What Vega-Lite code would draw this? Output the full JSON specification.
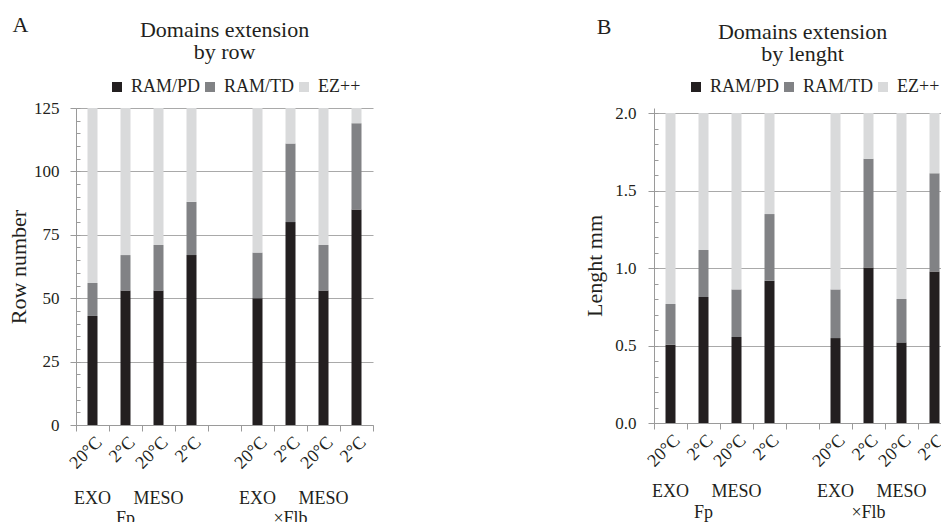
{
  "$schema": "https://vega.github.io/schema/vega-lite/v6.json",
  "background": "white",
  "padding": {"left": 7, "top": 14, "right": 0, "bottom": 0},
  "spacing": 209,
  "resolve": {"scale": {"color": "independent"}, "legend": {"color": "independent"}},
  "config": {
    "view": {"stroke": null},
    "font": "Liberation Serif",
    "axis": {"labelFont": "Liberation Serif", "titleFont": "Liberation Serif", "labelColor": "#231f20", "titleColor": "#231f20", "titleFontWeight": "normal", "domainColor": "#9a9a9a", "tickColor": "#9a9a9a", "gridColor": "#a9a9a9"},
    "legend": {"labelFont": "Liberation Serif", "labelColor": "#231f20", "labelFontSize": 18},
    "title": {"font": "Liberation Serif", "fontWeight": "normal", "color": "#231f20"}
  },
  "datasets": {
    "row": [
      {"cat": "Fp EXO 20°C", "seg": "RAM/PD", "o": 1, "value": 43},
      {"cat": "Fp EXO 20°C", "seg": "RAM/TD", "o": 2, "value": 13},
      {"cat": "Fp EXO 20°C", "seg": "EZ++", "o": 3, "value": 69},
      {"cat": "Fp EXO 2°C", "seg": "RAM/PD", "o": 1, "value": 53},
      {"cat": "Fp EXO 2°C", "seg": "RAM/TD", "o": 2, "value": 14},
      {"cat": "Fp EXO 2°C", "seg": "EZ++", "o": 3, "value": 58},
      {"cat": "Fp MESO 20°C", "seg": "RAM/PD", "o": 1, "value": 53},
      {"cat": "Fp MESO 20°C", "seg": "RAM/TD", "o": 2, "value": 18},
      {"cat": "Fp MESO 20°C", "seg": "EZ++", "o": 3, "value": 54},
      {"cat": "Fp MESO 2°C", "seg": "RAM/PD", "o": 1, "value": 67},
      {"cat": "Fp MESO 2°C", "seg": "RAM/TD", "o": 2, "value": 21},
      {"cat": "Fp MESO 2°C", "seg": "EZ++", "o": 3, "value": 37},
      {"cat": "×Flb EXO 20°C", "seg": "RAM/PD", "o": 1, "value": 50},
      {"cat": "×Flb EXO 20°C", "seg": "RAM/TD", "o": 2, "value": 18},
      {"cat": "×Flb EXO 20°C", "seg": "EZ++", "o": 3, "value": 57},
      {"cat": "×Flb EXO 2°C", "seg": "RAM/PD", "o": 1, "value": 80},
      {"cat": "×Flb EXO 2°C", "seg": "RAM/TD", "o": 2, "value": 31},
      {"cat": "×Flb EXO 2°C", "seg": "EZ++", "o": 3, "value": 14},
      {"cat": "×Flb MESO 20°C", "seg": "RAM/PD", "o": 1, "value": 53},
      {"cat": "×Flb MESO 20°C", "seg": "RAM/TD", "o": 2, "value": 18},
      {"cat": "×Flb MESO 20°C", "seg": "EZ++", "o": 3, "value": 54},
      {"cat": "×Flb MESO 2°C", "seg": "RAM/PD", "o": 1, "value": 85},
      {"cat": "×Flb MESO 2°C", "seg": "RAM/TD", "o": 2, "value": 34},
      {"cat": "×Flb MESO 2°C", "seg": "EZ++", "o": 3, "value": 6}
    ],
    "length": [
      {"cat": "Fp EXO 20°C", "seg": "RAM/PD", "o": 1, "value": 0.505},
      {"cat": "Fp EXO 20°C", "seg": "RAM/TD", "o": 2, "value": 0.263},
      {"cat": "Fp EXO 20°C", "seg": "EZ++", "o": 3, "value": 1.232},
      {"cat": "Fp EXO 2°C", "seg": "RAM/PD", "o": 1, "value": 0.813},
      {"cat": "Fp EXO 2°C", "seg": "RAM/TD", "o": 2, "value": 0.303},
      {"cat": "Fp EXO 2°C", "seg": "EZ++", "o": 3, "value": 0.884},
      {"cat": "Fp MESO 20°C", "seg": "RAM/PD", "o": 1, "value": 0.555},
      {"cat": "Fp MESO 20°C", "seg": "RAM/TD", "o": 2, "value": 0.307},
      {"cat": "Fp MESO 20°C", "seg": "EZ++", "o": 3, "value": 1.138},
      {"cat": "Fp MESO 2°C", "seg": "RAM/PD", "o": 1, "value": 0.918},
      {"cat": "Fp MESO 2°C", "seg": "RAM/TD", "o": 2, "value": 0.43},
      {"cat": "Fp MESO 2°C", "seg": "EZ++", "o": 3, "value": 0.652},
      {"cat": "×Flb EXO 20°C", "seg": "RAM/PD", "o": 1, "value": 0.548},
      {"cat": "×Flb EXO 20°C", "seg": "RAM/TD", "o": 2, "value": 0.314},
      {"cat": "×Flb EXO 20°C", "seg": "EZ++", "o": 3, "value": 1.138},
      {"cat": "×Flb EXO 2°C", "seg": "RAM/PD", "o": 1, "value": 1.004},
      {"cat": "×Flb EXO 2°C", "seg": "RAM/TD", "o": 2, "value": 0.701},
      {"cat": "×Flb EXO 2°C", "seg": "EZ++", "o": 3, "value": 0.295},
      {"cat": "×Flb MESO 20°C", "seg": "RAM/PD", "o": 1, "value": 0.52},
      {"cat": "×Flb MESO 20°C", "seg": "RAM/TD", "o": 2, "value": 0.28},
      {"cat": "×Flb MESO 20°C", "seg": "EZ++", "o": 3, "value": 1.2},
      {"cat": "×Flb MESO 2°C", "seg": "RAM/PD", "o": 1, "value": 0.978},
      {"cat": "×Flb MESO 2°C", "seg": "RAM/TD", "o": 2, "value": 0.633},
      {"cat": "×Flb MESO 2°C", "seg": "EZ++", "o": 3, "value": 0.389}
    ]
  },
  "hconcat": [
    {
      "title": {"text": "A", "anchor": "start", "offset": -18, "fontSize": 22, "dx": 5},
      "vconcat": [
        {
          "width": 297,
          "height": 317,
          "title": {"text": ["Domains extension", "by row"], "fontSize": 22, "lineHeight": 22, "offset": 35},
          "data": {"name": "row"},
          "layer": [
            {
              "mark": {"type": "bar", "size": 10},
              "encoding": {
                "x": {"field": "cat", "type": "nominal", "sort": null,
                  "scale": {"domain": ["Fp EXO 20°C", "Fp EXO 2°C", "Fp MESO 20°C", "Fp MESO 2°C", "gap", "×Flb EXO 20°C", "×Flb EXO 2°C", "×Flb MESO 20°C", "×Flb MESO 2°C"], "paddingInner": 0, "paddingOuter": 0},
                  "axis": {"title": null, "orient": "bottom", "tickBand": "extent", "tickSize": 6, "labelAngle": -45, "labelFont": "Liberation Serif", "labelFontSize": 18, "labelPadding": 2, "labelOverlap": false, "labelExpr": "datum.value == 'gap' ? '' : split(datum.value, ' ')[2]"}},
                "y": {"field": "value", "type": "quantitative", "stack": "zero",
                  "scale": {"domain": [0, 125]},
                  "axis": {"values": [0, 25, 50, 75, 100, 125], "title": "Row number", "titleFont": "Liberation Serif", "titleFontSize": 22, "titlePadding": 3, "labelFont": "Liberation Serif", "labelFontSize": 17, "tickSize": 6, "labelPadding": 11, "grid": true}},
                "color": {"field": "seg", "type": "nominal",
                  "scale": {"domain": ["RAM/PD", "RAM/TD", "EZ++"], "range": ["#231f20", "#818285", "#d9dadb"]},
                  "legend": {"title": null, "orient": "none", "legendX": 32, "legendY": -30, "direction": "horizontal", "symbolType": "square", "symbolSize": 100, "symbolStrokeWidth": 0, "labelFont": "Liberation Serif", "labelFontSize": 18, "labelOffset": 5, "columnPadding": 0}},
                "order": {"field": "o", "type": "quantitative"}
              }
            },
            {
              "mark": {"type": "bar", "size": 10, "opacity": 0},
              "encoding": {
                "x": {"field": "cat", "type": "nominal", "sort": null,
                  "axis": {"title": null, "orient": "bottom", "offset": 61, "domain": false, "ticks": false, "labelAngle": 0, "labelBaseline": "top", "labelPadding": 3, "labelFont": "Liberation Serif", "labelFontSize": 18, "labelOverlap": false, "labelExpr": "indexof(datum.value, 'EXO 20') >= 0 ? 'EXO' : (indexof(datum.value, 'MESO 20') >= 0 ? 'MESO' : '')"}},
                "y": {"field": "value", "type": "quantitative", "stack": null,
                  "scale": {"domain": [0, 125]},
                  "axis": {"orient": "left", "values": [0, 5, 10, 15, 20, 25, 30, 35, 40, 45, 50, 55, 60, 65, 70, 75, 80, 85, 90, 95, 100, 105, 110, 115, 120, 125], "labels": false, "grid": false, "domain": false, "tickSize": -4, "title": null}}
              }
            },
            {
              "mark": {"type": "bar", "size": 10, "opacity": 0},
              "encoding": {
                "x": {"field": "cat", "type": "nominal", "sort": null,
                  "axis": {"title": null, "orient": "bottom", "offset": 81, "domain": false, "ticks": false, "labelAngle": 0, "labelBaseline": "top", "labelPadding": 3, "labelFont": "Liberation Serif", "labelFontSize": 18, "labelOverlap": false, "labelExpr": "datum.value == 'Fp EXO 2°C' ? 'Fp' : (datum.value == '×Flb EXO 2°C' ? '×Flb' : '')"}}
              }
            }
          ],
          "resolve": {"axis": {"x": "independent", "y": "independent"}}
        }
      ]
    },
    {
      "title": {"text": "B", "anchor": "start", "offset": -18, "fontSize": 22, "dx": 13},
      "vconcat": [
        {
          "width": 297,
          "height": 315,
          "title": {"text": ["Domains extension", "by lenght"], "fontSize": 22, "lineHeight": 22, "offset": 38},
          "data": {"name": "length"},
          "layer": [
            {
              "mark": {"type": "bar", "size": 10},
              "encoding": {
                "x": {"field": "cat", "type": "nominal", "sort": null,
                  "scale": {"domain": ["Fp EXO 20°C", "Fp EXO 2°C", "Fp MESO 20°C", "Fp MESO 2°C", "gap", "×Flb EXO 20°C", "×Flb EXO 2°C", "×Flb MESO 20°C", "×Flb MESO 2°C"], "paddingInner": 0, "paddingOuter": 0},
                  "axis": {"title": null, "orient": "bottom", "tickBand": "extent", "tickSize": 6, "labelAngle": -45, "labelFont": "Liberation Serif", "labelFontSize": 18, "labelPadding": 2, "labelOverlap": false, "labelExpr": "datum.value == 'gap' ? '' : split(datum.value, ' ')[2]"}},
                "y": {"field": "value", "type": "quantitative", "stack": "zero",
                  "scale": {"domain": [0, 2.0323]},
                  "axis": {"values": [0, 0.5, 1, 1.5, 2], "format": ".1f", "title": "Lenght mm", "titleFont": "Liberation Serif", "titleFontSize": 22, "titlePadding": 8, "labelFont": "Liberation Serif", "labelFontSize": 17, "tickSize": 6, "labelPadding": 12, "grid": true}},
                "color": {"field": "seg", "type": "nominal",
                  "scale": {"domain": ["RAM/PD", "RAM/TD", "EZ++"], "range": ["#231f20", "#818285", "#d9dadb"]},
                  "legend": {"title": null, "orient": "none", "legendX": 33, "legendY": -30, "direction": "horizontal", "symbolType": "square", "symbolSize": 100, "symbolStrokeWidth": 0, "labelFont": "Liberation Serif", "labelFontSize": 18, "labelOffset": 5, "columnPadding": 0}},
                "order": {"field": "o", "type": "quantitative"}
              }
            },
            {
              "mark": {"type": "bar", "size": 10, "opacity": 0},
              "encoding": {
                "x": {"field": "cat", "type": "nominal", "sort": null,
                  "axis": {"title": null, "orient": "bottom", "offset": 56, "domain": false, "ticks": false, "labelAngle": 0, "labelBaseline": "top", "labelPadding": 3, "labelFont": "Liberation Serif", "labelFontSize": 18, "labelOverlap": false, "labelExpr": "indexof(datum.value, 'EXO 20') >= 0 ? 'EXO' : (indexof(datum.value, 'MESO 20') >= 0 ? 'MESO' : '')"}},
                "y": {"field": "value", "type": "quantitative", "stack": null,
                  "scale": {"domain": [0, 2.0323]},
                  "axis": {"orient": "left", "values": [0, 0.1, 0.2, 0.3, 0.4, 0.5, 0.6, 0.7, 0.8, 0.9, 1, 1.1, 1.2, 1.3, 1.4, 1.5, 1.6, 1.7, 1.8, 1.9, 2], "labels": false, "grid": false, "domain": false, "tickSize": -4, "title": null}}
              }
            },
            {
              "mark": {"type": "bar", "size": 10, "opacity": 0},
              "encoding": {
                "x": {"field": "cat", "type": "nominal", "sort": null,
                  "axis": {"title": null, "orient": "bottom", "offset": 77, "domain": false, "ticks": false, "labelAngle": 0, "labelBaseline": "top", "labelPadding": 3, "labelFont": "Liberation Serif", "labelFontSize": 18, "labelOverlap": false, "labelExpr": "datum.value == 'Fp EXO 2°C' ? 'Fp' : (datum.value == '×Flb EXO 2°C' ? '×Flb' : '')"}}
              }
            }
          ],
          "resolve": {"axis": {"x": "independent", "y": "independent"}}
        }
      ]
    }
  ]
}
